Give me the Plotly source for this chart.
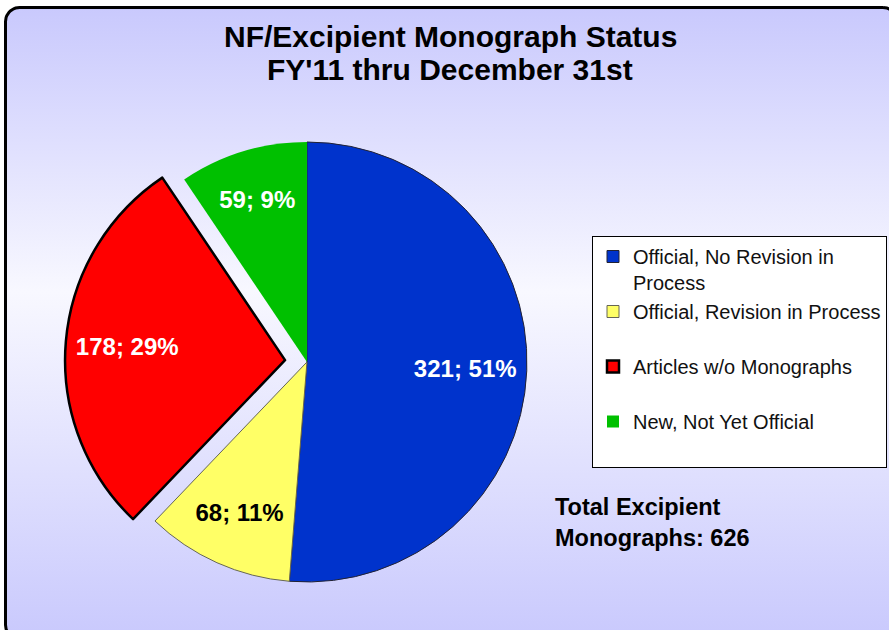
import numpy as np
import plotly.graph_objects as go

# ---------------- data ----------------
categories = ["Official, No Revision in<br>Process",
              "Official, Revision in Process",
              "Articles w/o Monographs",
              "New, Not Yet Official"]
counts = [321, 68, 178, 59]
percent_labels = ["51%", "11%", "29%", "9%"]
slice_colors = ["#0033cc", "#ffff66", "#ff0000", "#00c000"]
text_colors = ["white", "black", "white", "white"]
pulls = [0, 0, 0.1, 0]
title_lines = ["NF/Excipient Monograph Status", "FY'11 thru December 31st"]
total_note = "Total Excipient<br>Monographs: 626"

W, H = 889, 630
FONT = "Liberation Sans, Arial, sans-serif"
PIE_DOMAIN = dict(x=[0.0731, 0.6175], y=[0.0413, 0.8095])

# legend labels: pad single-line entries so every entry spans two lines
legend_labels = [c if "<br>" in c else c + "<br> " for c in categories]

fig = go.Figure()

# ---- gradient rounded panel (background decoration) ----
def rounded_rect(x0, y0, x1, y1, r, n=12):
    xs, ys = [], []
    corners = [(x1 - r, y0 + r, -90, 0), (x1 - r, y1 - r, 0, 90),
               (x0 + r, y1 - r, 90, 180), (x0 + r, y0 + r, 180, 270)]
    for cx, cy, a0, a1 in corners:
        t = np.radians(np.linspace(a0, a1, n))
        xs += list(cx + r * np.cos(t))
        ys += list(cy + r * np.sin(t))
    xs.append(xs[0]); ys.append(ys[0])
    return xs, ys

px_, py_ = rounded_rect(5.5, 7.5, 897, 639, 14)
fig.add_trace(go.Scatter(
    x=px_, y=py_, mode="lines", fill="toself",
    line=dict(color="black", width=3),
    fillgradient=dict(type="vertical", start=8, stop=638,
                      colorscale=[[0, "#c9c9fd"], [0.45, "#f8f8ff"], [1, "#c9c9fd"]]),
    hoverinfo="skip", showlegend=False, xaxis="x", yaxis="y"))

# ---- pie (slices) ----
fig.add_trace(go.Pie(
    labels=legend_labels,
    values=counts,
    textinfo="none",
    marker=dict(colors=slice_colors,
                line=dict(color=["#222233", "#666655", "black", "rgba(0,0,0,0)"],
                          width=[1, 1, 2.5, 0])),
    pull=pulls,
    sort=False,
    direction="clockwise",
    rotation=0,
    domain=PIE_DOMAIN,
    hoverinfo="label+value+percent",
))

# ---- same pie as a transparent ring, used only to place the slice labels ----
fig.add_trace(go.Pie(
    labels=legend_labels,
    values=counts,
    text=percent_labels,
    texttemplate="%{value}; %{text}",
    textinfo="text",
    textposition="inside",
    insidetextorientation="horizontal",
    textfont=dict(family=FONT, size=24, color=text_colors, weight="bold"),
    marker=dict(colors=["rgba(0,0,0,0)"] * len(counts),
                line=dict(width=0)),
    hole=0.44,
    pull=pulls,
    sort=False,
    direction="clockwise",
    rotation=0,
    domain=PIE_DOMAIN,
    showlegend=False,
    hoverinfo="skip",
))

# ---- titles & note ----
ann = []
for txt, yc in zip(title_lines, [36, 69]):
    ann.append(dict(text=txt, x=450 / W, y=1 - yc / H, xref="paper", yref="paper",
                    xanchor="center", yanchor="middle", showarrow=False,
                    font=dict(family=FONT, size=30, color="black", weight="bold")))
ann.append(dict(text=total_note, x=553 / W, y=1 - 522 / H, xref="paper", yref="paper",
                xanchor="left", yanchor="middle", align="left", showarrow=False,
                font=dict(family=FONT, size=23.5, color="black", weight="bold")))

fig.update_layout(
    width=W, height=H,
    margin=dict(l=0, r=0, t=0, b=0),
    paper_bgcolor="white",
    plot_bgcolor="rgba(0,0,0,0)",
    xaxis=dict(range=[0, W], visible=False, fixedrange=True),
    yaxis=dict(range=[H, 0], visible=False, fixedrange=True),
    showlegend=True,
    legend=dict(x=592 / W, y=1 - 236 / H, xanchor="left", yanchor="top",
                bgcolor="white", bordercolor="black", borderwidth=1,
                font=dict(family=FONT, size=20, color="#111111"),
                valign="top", itemwidth=30, traceorder="normal"),
    annotations=ann,
)

fig.write_html("out.html",
               config={"displayModeBar": False},
               post_script="document.body.style.margin='0';")
